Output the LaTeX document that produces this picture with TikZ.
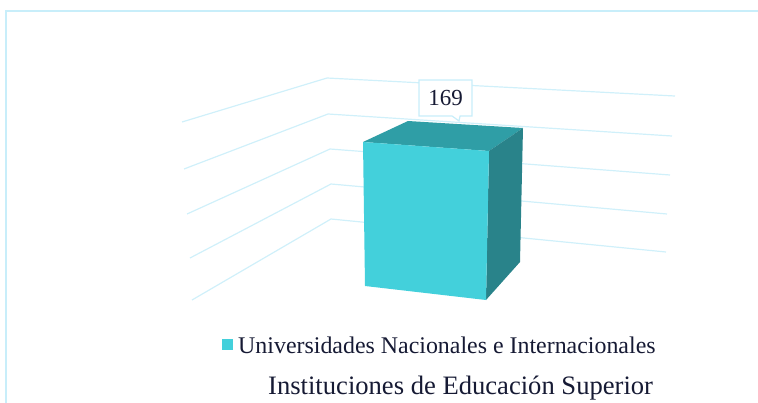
\documentclass[tikz,border=0pt]{standalone}
\usepackage{fontspec}
\setmainfont{Liberation Serif}
\usetikzlibrary{shapes.callouts}
\definecolor{frame}{RGB}{200,238,250}
\definecolor{grid}{RGB}{208,240,250}
\definecolor{front}{RGB}{67,208,219}
\definecolor{top}{RGB}{47,158,166}
\definecolor{side}{RGB}{41,131,138}
\definecolor{ink}{RGB}{22,26,52}
\tikzset{gridline/.style={color=grid, line width=1.2pt}, face/.style={draw=none}}

\begin{document}
\begin{tikzpicture}[x=1pt, y=-1pt]
			\useasboundingbox (0,0) rectangle (758,402);
			\draw[color=frame, line width=1.2pt] (770,11) -- (6,11) -- (6,410);
			\draw[gridline] (182,122) -- (327,78) -- (675,96);
			\draw[gridline] (184,169) -- (328,114) -- (672,136);
			\draw[gridline] (187,214) -- (330,149) -- (670,175);
			\draw[gridline] (190,258) -- (331,184) -- (667,214);
			\draw[gridline] (192,300) -- (331,219) -- (666,252);
			\fill[face, top] (363,142) -- (408,121) -- (523,128) -- (489,151) -- cycle;
			\fill[face, side] (489,151) -- (523,128) -- (520,262) -- (486,300) -- cycle;
			\fill[face, front] (363,142) -- (489,151) -- (486,300) -- (365,286) -- cycle;
			\node[rectangle callout, draw=frame, fill=white, line width=1.2pt, minimum width=53pt, minimum height=36pt, inner sep=0pt,
				callout absolute pointer={(459,121)}, callout pointer width=8pt, text=ink, font=\fontsize{23}{23}\selectfont] (value) at (445.5,98) {169};
			\fill[front] (222,339) rectangle (233,350) coordinate (key);
			\node[anchor=base west, inner sep=0pt, text=ink, font=\fontsize{23.9}{24}\selectfont] (legend) at (238,353) {Universidades Nacionales e Internacionales};
			\node[anchor=base west, inner sep=0pt, text=ink, font=\fontsize{26.6}{27}\selectfont] (title) at (268,394) {Instituciones de Educación Superior};
		\end{tikzpicture}
\end{document}
